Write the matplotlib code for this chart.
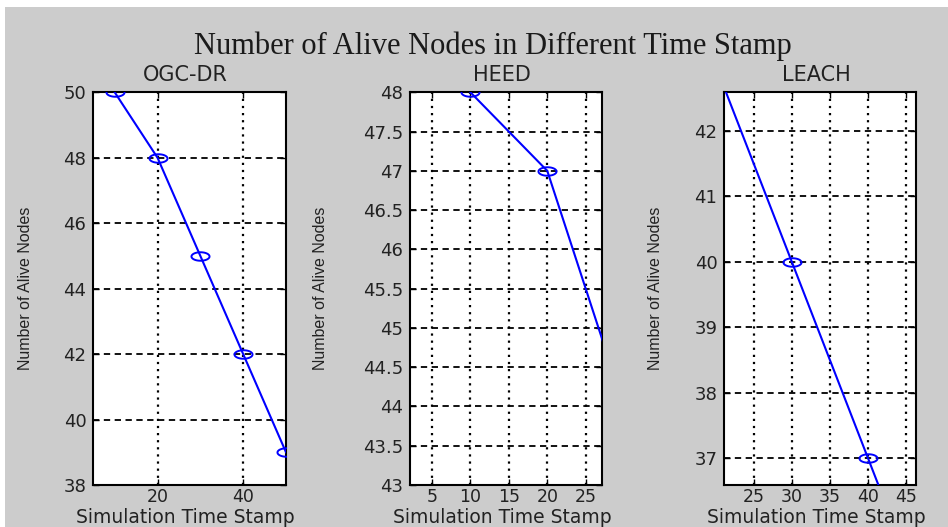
import numpy as np
import matplotlib
matplotlib.use("Agg")
import matplotlib.pyplot as plt
from matplotlib.path import Path
from matplotlib.patches import Rectangle

# ---- data ----
titles = ["OGC-DR", "HEED", "LEACH"]
ogc_x = [10, 20, 30, 40, 50]
ogc_y = [50, 48, 45, 42, 39]
heed_x = [10, 20, 30]
heed_y = [48, 47, 44]
leach_x = [20, 30, 40, 50]
leach_y = [43, 40, 37, 34]

ogc_xticks = [20, 40]
ogc_yticks = [38, 40, 42, 44, 46, 48, 50]
heed_xticks = [5, 10, 15, 20, 25]
heed_yticks = [43, 43.5, 44, 44.5, 45, 45.5, 46, 46.5, 47, 47.5, 48]
leach_xticks = [25, 30, 35, 40, 45]
leach_yticks = [37, 38, 39, 40, 41, 42]

main_title = "Number of Alive Nodes in Different Time Stamp"
xlab = "Simulation Time Stamp"
ylab = "Number of Alive Nodes"

W, H = 948, 527
fig = plt.figure(figsize=(W / 100, H / 100), dpi=100, facecolor="white")
fig.patches.append(Rectangle((5 / W, 0), 1, (H - 7) / H, transform=fig.transFigure,
                             facecolor="#cccccc", edgecolor="none", zorder=-10))

# ellipse marker (horizontally stretched circle)
t = np.linspace(0, 2 * np.pi, 60)
ell = Path(np.column_stack([np.cos(t), 0.47 * np.sin(t)]), closed=True)

def px(l, r, top=92.3, bot=485):
    return [l / W, 1 - bot / H, (r - l) / W, (bot - top) / H]

specs = [
    (px(93.3, 286), ogc_x, ogc_y, (5, 50), (38, 50), ogc_xticks, ogc_yticks, -0.354),
    (px(410, 602.3), heed_x, heed_y, (2.14, 27.16), (43, 48), heed_xticks, heed_yticks, -0.468),
    (px(724.3, 916), leach_x, leach_y, (21.14, 46.3), (36.59, 42.59), leach_xticks, leach_yticks, -0.361),
]

for (rect, xs, ys, xl, yl, xt, yt, ylx), ttl in zip(specs, titles):
    ax = fig.add_axes(rect)
    ax.set_facecolor("white")
    ax.plot(xs, ys, color="#0000ff", lw=1.5, marker=ell, markersize=13,
            markerfacecolor="none", markeredgecolor="#0000ff", markeredgewidth=1.4,
            zorder=3, clip_on=True)
    ax.set_xlim(*xl)
    ax.set_ylim(*yl)
    ax.set_xticks(xt)
    ax.set_yticks(yt)
    ax.set_xticklabels([f"{v:g}" for v in xt])
    ax.set_yticklabels([f"{v:g}" for v in yt])
    for g in ax.get_xticks():
        ax.axvline(g, color="black", lw=1.6, linestyle=(0, (1, 2.2)), zorder=1)
    for g in ax.get_yticks():
        ax.axhline(g, color="black", lw=1.3, linestyle=(0, (3.5, 2.5)), zorder=1)
    ax.tick_params(direction="in", top=True, right=True, length=4, width=1,
                   labelsize=13, colors="black", pad=5)
    ax.tick_params(axis="x", pad=2.5, labelsize=12.5)
    for lab in ax.get_xticklabels() + ax.get_yticklabels():
        lab.set_family("DejaVu Sans")
        lab.set_color("#222222")
    for s in ax.spines.values():
        s.set_linewidth(1.5)
        s.set_color("black")
    ax.set_xlabel(xlab, fontsize=13.5, family="DejaVu Sans", color="#222222")
    ax.xaxis.set_label_coords(0.48, -0.0955)
    ax.xaxis.label.set_va("baseline")
    ax.set_ylabel(ylab, fontsize=11.5, family="Liberation Sans", color="#222222")
    ax.yaxis.set_label_coords(ylx, 0.5)
    ax.yaxis.label.set_va("center")
    ax.text(0.48, 1.043, ttl, transform=ax.transAxes, ha="center", va="center",
            fontsize=15, family="DejaVu Sans", color="#222222")

fig.text(0.5195, 0.9127, main_title, ha="center", va="center",
         fontsize=22, family="Liberation Serif", color="#1a1a1a")

fig.savefig("out.png", dpi=100, facecolor=fig.get_facecolor())
